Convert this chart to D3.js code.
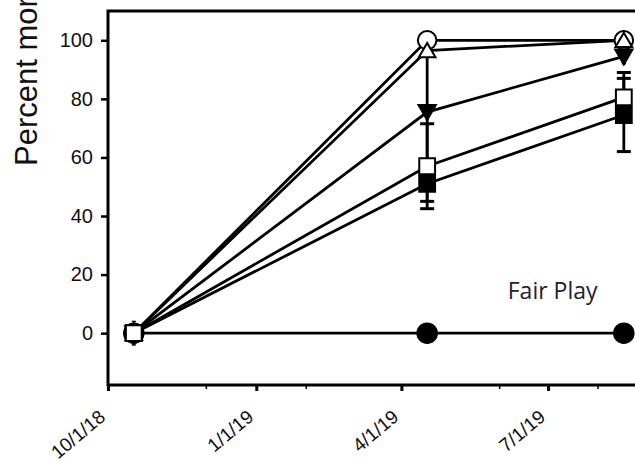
<!DOCTYPE html>
<html>
<head>
  <title>Percent mortality over time</title>
  <script src="https://d3js.org/d3.v7.min.js"></script>
  <style>
    body { margin: 0; background: #fff; }
    svg { display: block; font-family: "Liberation Sans", Arial, sans-serif; }
  </style>
</head>
<body>

<div id="chart"></div>

<script>
// Sampling dates
const dates = ["2018-10-17", "2019-04-17", "2019-08-17"];

// Series values (percent)
const openCircle   = [0, 100, 100];
const openTriangle = [0, 96.5, 100];
const filledTriDown = [0, 75.5, 94.5];
const openSquare   = [0, 57, 80.5];
const filledSquare = [0, 51, 74.5];
const fairPlay     = [0, 0, 0];

// Error bar half-lengths
const openCircleErr   = [0, 0, 0];
const openTriangleErr = [0, 2, 0];
const filledTriDownErr = [0, 19, 2.5];
const openSquareErr   = [4, 14.5, 8.5];
const filledSquareErr = [0, 6, 12.5];
const fairPlayErr     = [0, 0, 0];

// Axis ticks
const yTicks = [0, 20, 40, 60, 80, 100];
const xTicks = ["2018-10-01", "2019-01-01", "2019-04-01", "2019-07-01"];
const xMinorTicks = ["2018-12-01", "2019-02-01", "2019-06-01", "2019-08-01"];

const parse = d3.timeParse("%Y-%m-%d");
const fmt = d3.timeFormat("%-m/%-d/%y");

const width = 635, height = 462;

const svg = d3.select("#chart")
  .append("svg")
  .attr("width", width)
  .attr("height", height);

const x = d3.scaleTime()
  .domain([parse("2018-10-01"), parse("2019-09-01")])
  .range([108, 648]);

const y = d3.scaleLinear()
  .domain([-17.7, 110])
  .range([385, 11]);

// series list built from the arrays above (draw order: bottom to top)
const series = [
  { vals: fairPlay, err: fairPlayErr, shape: d3.symbolCircle, size: 300, fill: "#000", rot: 0 },
  { vals: openCircle, err: openCircleErr, shape: d3.symbolCircle, size: 270, fill: "#fff", rot: 0 },
  { vals: openTriangle, err: openTriangleErr, shape: d3.symbolTriangle, size: 120, fill: "#fff", rot: 0 },
  { vals: filledTriDown, err: filledTriDownErr, shape: d3.symbolTriangle, size: 130, fill: "#000", rot: 180 },
  { vals: filledSquare, err: filledSquareErr, shape: d3.symbolSquare, size: 250, fill: "#000", rot: 0 },
  { vals: openSquare, err: openSquareErr, shape: d3.symbolSquare, size: 250, fill: "#fff", rot: 0 }
];

series.forEach(s => {
  s.points = dates.map((d, i) => ({ date: parse(d), v: s.vals[i], e: s.err[i] }));
});

// frame
svg.append("rect")
  .attr("x", x.range()[0])
  .attr("y", y.range()[1])
  .attr("width", x.range()[1] - x.range()[0])
  .attr("height", y.range()[0] - y.range()[1])
  .attr("fill", "none")
  .attr("stroke", "#000")
  .attr("stroke-width", 3);

// y axis
const yAxis = svg.append("g")
  .attr("transform", `translate(${x.range()[0]},0)`)
  .call(d3.axisLeft(y).tickValues(yTicks).tickSize(7).tickPadding(8));
yAxis.select(".domain").remove();
yAxis.selectAll(".tick line").attr("stroke-width", 2.5);
yAxis.selectAll(".tick text")
  .attr("font-size", 20)
  .attr("fill", "#111")
  .attr("font-family", "Liberation Sans, Arial, sans-serif");

// x axis
const xAxis = svg.append("g")
  .attr("transform", `translate(0,${y.range()[0]})`)
  .call(d3.axisBottom(x).tickValues(xTicks.map(parse)).tickSize(6).tickFormat(fmt));
xAxis.select(".domain").remove();
xAxis.selectAll(".tick line").attr("stroke-width", 3);
xAxis.selectAll(".tick text")
  .attr("font-size", 19)
  .attr("fill", "#111")
  .attr("font-family", "Liberation Sans, Arial, sans-serif")
  .attr("text-anchor", "end")
  .attr("dy", 0)
  .attr("y", 0)
  .attr("transform", "translate(-2,34) rotate(-40)");

// minor x ticks
svg.append("g")
  .selectAll("line")
  .data(xMinorTicks.map(parse))
  .join("line")
  .attr("x1", d => x(d)).attr("x2", d => x(d))
  .attr("y1", y.range()[0]).attr("y2", y.range()[0] + 4)
  .attr("stroke", "#000")
  .attr("stroke-width", 1.5);

// y label
svg.append("text")
  .attr("transform", "translate(37,166) rotate(-90)")
  .attr("font-size", 31)
  .attr("fill", "#111")
  .attr("font-family", "Liberation Sans, Arial, sans-serif")
  .text("Percent mortality");

// lines
const line = d3.line()
  .x(d => x(d.date))
  .y(d => y(d.v));

svg.append("g")
  .selectAll("path")
  .data(series)
  .join("path")
  .attr("d", s => line(s.points))
  .attr("fill", "none")
  .attr("stroke", "#000")
  .attr("stroke-width", 2.8);

// error bars
const eb = svg.append("g").attr("stroke", "#000");
series.forEach(s => {
  s.points.filter(p => p.e > 0).forEach(p => {
    const cx = x(p.date);
    const capW = p.e < 5 ? 2 : 7;
    eb.append("line")
      .attr("x1", cx).attr("x2", cx)
      .attr("y1", y(p.v - p.e)).attr("y2", y(p.v + p.e))
      .attr("stroke-width", p.e < 5 ? 1.5 : 2.8);
    [p.v - p.e, p.v + p.e].forEach(v => {
      eb.append("line")
        .attr("x1", cx - capW).attr("x2", cx + capW)
        .attr("y1", y(v)).attr("y2", y(v))
        .attr("stroke-width", p.e < 5 ? 1.5 : 3);
    });
  });
});

// markers
series.forEach(s => {
  svg.append("g")
    .selectAll("path")
    .data(s.points)
    .join("path")
    .attr("d", d3.symbol().type(s.shape).size(s.size))
    .attr("transform", d => `translate(${x(d.date)},${y(d.v) + (s.rot ? -2 : (s.shape === d3.symbolTriangle ? 2 : 0))}) rotate(${s.rot})`)
    .attr("fill", s.fill)
    .attr("stroke", "#000")
    .attr("stroke-width", 2);
});

// annotation
svg.append("text")
  .attr("x", x(parse("2019-06-06")))
  .attr("y", y(11.5))
  .attr("font-size", 23)
  .attr("fill", "#222")
  .attr("font-family", "Open Sans, sans-serif")
  .text("Fair Play");
</script>

</body>
</html>
